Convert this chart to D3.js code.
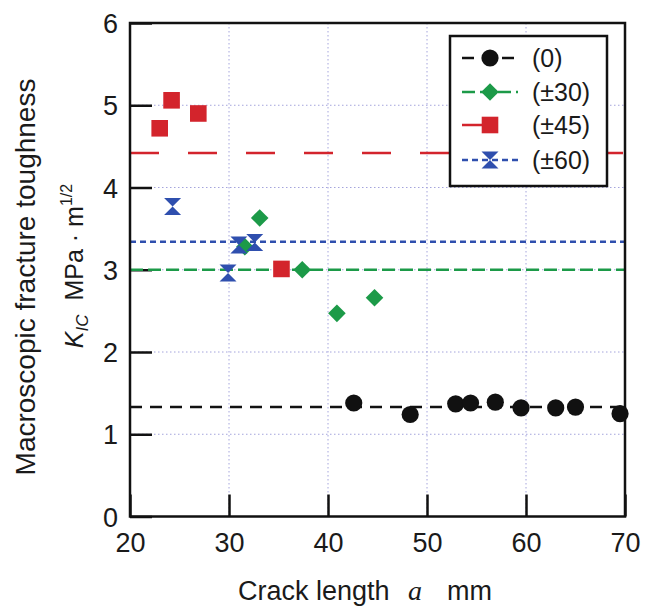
<!DOCTYPE html>
<html lang="en">
<head>
    <meta charset="UTF-8">
    <title>Macroscopic fracture toughness vs crack length</title>
    <script src="https://d3js.org/d3.v7.min.js"></script>
    <style>
        body {
            margin: 0;
            background: #fff;
            font-family: "Liberation Sans", Arial, Helvetica, sans-serif;
        }
        .tick text {
            font-size: 27px;
            fill: #1a1a1a;
        }
    </style>
</head>
<body>
    <div id="chart"></div>

    <script>
        // datos
        var xTicks = [20, 30, 40, 50, 60, 70];
        var yTicks = [0, 1, 2, 3, 4, 5, 6];
        var legendLabels = ["(0)", "(\u00b130)", "(\u00b145)", "(\u00b160)"];

        var pts0  = [[42.6, 1.38], [48.3, 1.24], [52.9, 1.37], [54.4, 1.38], [56.9, 1.39],
                     [59.5, 1.32], [63.0, 1.32], [65.0, 1.33], [69.5, 1.25]];
        var pts30 = [[31.6, 3.28], [33.1, 3.63], [37.4, 3.00], [40.9, 2.47], [44.7, 2.66]];
        var pts45 = [[23.0, 4.72], [24.2, 5.06], [26.9, 4.90], [35.3, 3.01]];
        var pts60 = [[24.3, 3.77], [29.9, 2.96], [31.0, 3.30], [32.6, 3.33]];
        var means = [1.33, 3.00, 4.42, 3.34];

        var width = 648;
        var height = 610;
        var margin = { top: 23, right: 23, bottom: 93.5, left: 130 };

        var svg = d3.select("#chart")
            .append("svg")
            .attr("width", width)
            .attr("height", height);

        var x = d3.scaleLinear()
            .domain([20, 70])
            .range([margin.left, width - margin.right]);

        var y = d3.scaleLinear()
            .domain([0, 6])
            .range([height - margin.bottom, margin.top]);

        // series: datos + estilo
        var series = [
            { label: legendLabels[0], data: pts0,  mean: means[0], color: "#111111", dash: "12,8", shape: "circle" },
            { label: legendLabels[1], data: pts30, mean: means[1], color: "#1c9a48", dash: "13,5", shape: "diamond" },
            { label: legendLabels[2], data: pts45, mean: means[2], color: "#d3242c", dash: "29,29", shape: "square" },
            { label: legendLabels[3], data: pts60, mean: means[3], color: "#2f4fae", dash: "6,4", shape: "hourglass" }
        ];

        function markerPath(shape) {
            if (shape === "circle") return d3.symbol().type(d3.symbolCircle).size(Math.PI * 8.6 * 8.6)();
            if (shape === "square") return "M-8.3,-8.3H8.3V8.3H-8.3Z";
            if (shape === "diamond") return "M0,-8.8L8.8,0L0,8.8L-8.8,0Z";
            return "M-8.5,-8.5H8.5L0,0L8.5,8.5H-8.5L0,0Z";
        }

        // rejilla punteada
        var grid = svg.append("g");
        grid.selectAll(".gx")
            .data(xTicks.slice(1, -1))
            .enter().append("line")
            .attr("x1", d => x(d)).attr("x2", d => x(d))
            .attr("y1", y(6)).attr("y2", y(0))
            .attr("stroke", "#a4a4dc")
            .attr("stroke-width", 1)
            .attr("stroke-dasharray", "1.5,2.5");
        grid.selectAll(".gy")
            .data(yTicks.slice(1, -1))
            .enter().append("line")
            .attr("x1", x(20)).attr("x2", x(70))
            .attr("y1", d => y(d)).attr("y2", d => y(d))
            .attr("stroke", "#a4a4dc")
            .attr("stroke-width", 1)
            .attr("stroke-dasharray", "1.5,2.5");

        // ejes con ticks hacia dentro
        var gx = svg.append("g")
            .attr("transform", `translate(0,${y(0)})`)
            .call(d3.axisBottom(x).tickValues(xTicks).tickFormat(d3.format("d")).tickSize(-22).tickPadding(16));
        var gy = svg.append("g")
            .attr("transform", `translate(${x(20)},0)`)
            .call(d3.axisLeft(y).tickValues(yTicks).tickFormat(d3.format("d")).tickSize(-22).tickPadding(12));
        [gx, gy].forEach(function(g) {
            g.attr("font-family", null).attr("font-size", null);
            g.select(".domain").remove();
            g.selectAll(".tick line").attr("stroke", "#111").attr("stroke-width", 2.5);
        });
        gy.selectAll(".tick text").attr("dy", "0.36em");

        // lineas de promedio
        svg.selectAll(".mean")
            .data(series)
            .enter().append("line")
            .attr("x1", x(20)).attr("x2", x(70))
            .attr("y1", d => y(d.mean)).attr("y2", d => y(d.mean))
            .attr("stroke", d => d.color)
            .attr("stroke-width", 2.5)
            .attr("stroke-dasharray", d => d.dash);

        // marco
        svg.append("rect")
            .attr("x", x(20)).attr("y", y(6))
            .attr("width", x(70) - x(20))
            .attr("height", y(0) - y(6))
            .attr("fill", "none")
            .attr("stroke", "#111")
            .attr("stroke-width", 2.5);

        // puntos
        series.forEach(function(s) {
            svg.append("g").selectAll("path")
                .data(s.data)
                .enter().append("path")
                .attr("d", markerPath(s.shape))
                .attr("transform", d => `translate(${x(d[0])},${y(d[1])})`)
                .attr("fill", s.color);
        });

        // leyenda
        var legend = svg.append("g").attr("transform", "translate(450,36)");
        legend.append("rect")
            .attr("width", 157).attr("height", 150)
            .attr("fill", "#fff")
            .attr("stroke", "#111")
            .attr("stroke-width", 2.5);
        var rowY = [22, 56, 89, 124];
        var item = legend.selectAll(".item")
            .data(series)
            .enter().append("g")
            .attr("transform", (d, i) => `translate(0,${rowY[i]})`);
        item.append("line")
            .attr("x1", 12).attr("x2", 68)
            .attr("stroke", d => d.color)
            .attr("stroke-width", 2.5)
            .attr("stroke-dasharray", d => d.dash);
        item.append("path")
            .attr("d", d => markerPath(d.shape))
            .attr("transform", "translate(40,0)")
            .attr("fill", d => d.color);
        item.append("text")
            .attr("x", 82)
            .attr("dy", "0.36em")
            .attr("font-size", 25)
            .attr("fill", "#1a1a1a")
            .text(d => d.label);

        // titulo eje x
        var xt = svg.append("g").attr("fill", "#1a1a1a").attr("font-size", 27);
        xt.append("text").attr("x", 238).attr("y", 600).text("Crack length");
        xt.append("text").attr("x", 408).attr("y", 600)
            .attr("font-family", "'Liberation Serif', 'Times New Roman', serif")
            .attr("font-style", "italic").attr("font-size", 28).text("a");
        xt.append("text").attr("x", 447).attr("y", 600).text("mm");

        // titulo eje y
        svg.append("text")
            .attr("transform", "translate(35,277) rotate(-90)")
            .attr("text-anchor", "middle")
            .attr("font-size", 28)
            .attr("fill", "#1a1a1a")
            .text("Macroscopic fracture toughness");

        var yt = svg.append("text")
            .attr("transform", "translate(83,266) rotate(-90)")
            .attr("text-anchor", "middle")
            .attr("font-size", 25)
            .attr("fill", "#1a1a1a");
        yt.append("tspan").attr("font-style", "italic").text("K");
        yt.append("tspan").attr("font-style", "italic").attr("font-size", 17).attr("dy", 5).text("IC");
        yt.append("tspan").attr("dy", -5).text("\u00a0\u00a0MPa \u00b7 m");
        yt.append("tspan").attr("font-size", 16).attr("dy", -11).text("1/2");
    </script>
</body>
</html>
